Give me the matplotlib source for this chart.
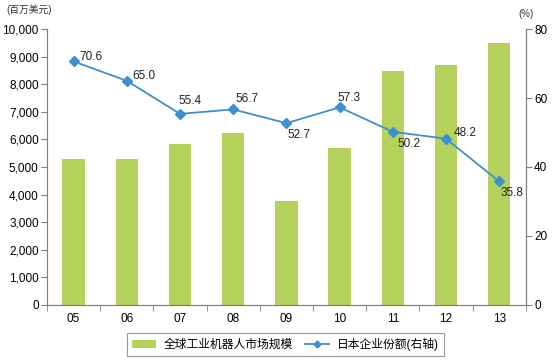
import matplotlib
matplotlib.use('Agg')
import matplotlib.pyplot as plt
from matplotlib.lines import Line2D
from matplotlib.patches import Patch
from matplotlib.ticker import FuncFormatter, MultipleLocator

plt.rcParams['font.family'] = ['Liberation Sans', 'Noto Sans CJK SC', 'DejaVu Sans']

years = ['05', '06', '07', '08', '09', '10', '11', '12', '13']
market = [5290, 5290, 5830, 6230, 3780, 5690, 8490, 8680, 9490]
share = [70.6, 65.0, 55.4, 56.7, 52.7, 57.3, 50.2, 48.2, 35.8]
# label offsets in pixels from each marker
label_offsets = [(6, 4), (6, 5), (-2, 13), (2, 10), (1, -12), (-2, 9), (5, -12), (8, 6), (1, -12)]

barColor = '#b5d35c'
lineColor = '#3d8fd1'
spineColor = '#808080'

figure = plt.figure(figsize=(5.57, 3.63), dpi=100)
axes = figure.add_axes([0.0844, 0.160, 0.8596, 0.760])

x = list(range(len(years)))
axes.bar(x, market, width=0.42, color=barColor, zorder=2)
axes.set_xlim(-0.5, len(years) - 0.5)
axes.set_ylim(0, 10000)
axes.yaxis.set_major_locator(MultipleLocator(1000))
axes.yaxis.set_major_formatter(FuncFormatter(lambda v, p: '{:,.0f}'.format(v)))
axes.set_xticks(x)
axes.set_xticklabels(years)
axes.set_xticks([i - 0.5 for i in range(len(years) + 1)], minor=True)
axes.tick_params(axis='x', which='major', length=0, pad=6, labelsize=8.5)
axes.tick_params(axis='x', which='minor', length=4, color=spineColor, direction='out')
axes.tick_params(axis='y', length=4, color=spineColor, labelsize=8.5, pad=2)

axes2 = axes.twinx()
axes2.plot(x, share, color=lineColor, marker='D', markersize=5,
           linewidth=1.3, zorder=3)
axes2.set_ylim(0, 80)
axes2.yaxis.set_major_locator(MultipleLocator(20))
axes2.tick_params(axis='y', length=4, color=spineColor, labelsize=8.5, pad=2)

for ax in (axes, axes2):
   ax.spines['top'].set_visible(False)
   for side in ('left', 'right', 'bottom'):
      ax.spines[side].set_color(spineColor)
      ax.spines[side].set_linewidth(0.8)

for i, v in enumerate(share):
   axes2.annotate('{:.1f}'.format(v), (x[i], v), xytext=label_offsets[i],
                  textcoords='offset pixels', fontsize=8.5, color='#222222',
                  ha='left', va='center')

figure.text(0.012, 0.972, '(百万美元)', fontsize=7, ha='left', va='center', color='#333333')
figure.text(0.944, 0.962, '(%)', fontsize=7, ha='center', va='center', color='#333333')

handles = [Patch(facecolor=barColor, edgecolor='none', label='全球工业机器人市场规模'),
           Line2D([], [], color=lineColor, marker='D', markersize=3.5, linewidth=1.3,
                  label='日本企业份额(右轴)')]
legend = figure.legend(handles=handles, loc='center', bbox_to_anchor=(0.513, 0.051),
                       ncol=2, fontsize=8.5, frameon=True, fancybox=False,
                       edgecolor=spineColor, handlelength=2.0, handletextpad=0.7,
                       columnspacing=1.0, borderpad=0.45)
legend.get_frame().set_linewidth(0.8)

figure.savefig('out.png', dpi=100)
